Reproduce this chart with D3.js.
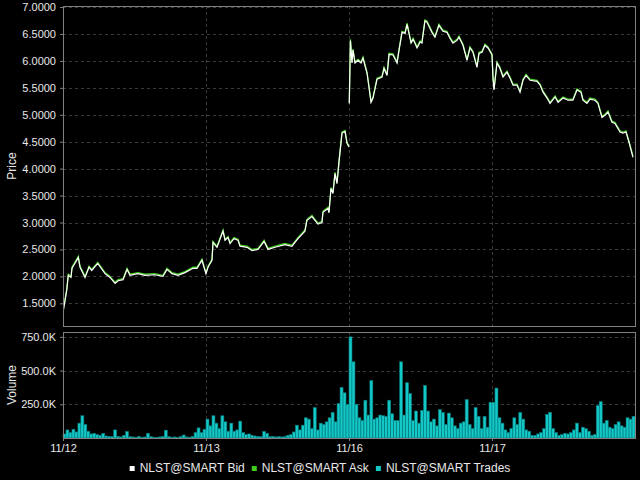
<!DOCTYPE html>
<html>
<head>
<meta charset="utf-8">
<script src="https://cdn.jsdelivr.net/npm/d3@7"></script>
<style>
  body { margin: 0; background: #000; }
  text { font-family: "Liberation Sans", Arial, sans-serif; fill: #e8e8e8; }
</style>
</head>
<body>
<div id="chart"></div>
<script>
const days = ["11/12", "11/13", "11/16", "11/17"];
const priceTicks = [1.5, 2.0, 2.5, 3.0, 3.5, 4.0, 4.5, 5.0, 5.5, 6.0, 6.5, 7.0];
const volumeTicks = [250000, 500000, 750000];
const legendNames = ["NLST@SMART Bid", "NLST@SMART Ask", "NLST@SMART Trades"];
const legendColors = ["#ffffff", "#3fcc1a", "#14c8c8"];

// quote time, in trading days since the 11/12 open (null = weekend break)
const quoteTime = [
  0.000,0.026,0.037,0.056,0.063,0.107,0.119,0.154,0.182,0.201,0.243,0.294,0.329,0.364,0.385,0.420,
  0.448,0.469,0.524,0.573,0.643,0.699,0.727,0.762,0.804,0.853,0.909,0.937,0.972,0.986,1.000,
  1.014,1.042,1.049,1.077,1.119,1.133,1.154,1.168,1.196,1.224,1.238,1.287,1.322,1.364,1.406,1.434,
  1.483,1.552,1.601,1.643,1.692,1.706,1.741,1.783,1.811,1.818,1.853,1.860,1.874,1.888,1.902,1.916,
  1.930,1.951,1.972,1.986,2.000,
  2.001,
  2.002,2.010,2.021,2.028,2.042,2.063,2.084,2.098,2.126,2.133,2.154,2.168,2.196,2.231,2.245,2.266,
  2.280,2.308,2.336,2.350,2.371,2.392,2.406,2.434,2.448,2.476,2.497,2.510,2.531,2.545,2.580,2.601,
  2.629,2.657,2.685,2.706,2.727,2.755,2.769,2.797,2.825,2.846,2.867,2.895,2.909,2.930,2.951,2.972,3.000,
  3.007,3.014,3.035,3.056,3.077,3.105,3.126,3.147,3.175,3.196,3.217,3.238,3.266,3.315,3.336,3.357,
  3.385,3.406,3.441,3.462,3.497,3.531,3.566,3.594,3.622,3.636,3.664,3.685,3.720,3.741,3.769,3.790,
  3.811,3.839,3.860,3.895,3.916,3.937,3.958,3.986
];

const bid = [
  1.33,1.74,2.02,1.98,2.15,2.35,2.17,1.98,2.17,2.11,2.24,2.05,1.98,1.87,1.92,1.94,
  2.13,2.02,2.05,2.02,2.03,2.00,2.13,2.05,2.02,2.07,2.15,2.15,2.30,2.17,2.05,
  2.17,2.30,2.63,2.54,2.84,2.67,2.72,2.61,2.70,2.67,2.56,2.54,2.48,2.50,2.65,2.50,
  2.54,2.59,2.56,2.70,2.84,3.04,3.11,2.97,3.00,3.19,3.26,3.18,3.63,3.54,3.91,3.72,
  4.12,4.66,4.69,4.47,4.40,
  null,
  5.21,6.38,5.96,6.20,5.96,6.01,5.96,6.05,5.77,5.64,5.23,5.31,5.66,5.70,5.86,5.73,
  6.12,6.11,5.96,6.20,6.53,6.51,6.68,6.33,6.40,6.24,6.35,6.33,6.74,6.72,6.53,6.44,
  6.66,6.55,6.53,6.42,6.33,6.38,6.44,6.29,6.01,6.24,6.16,5.88,6.14,6.16,6.29,6.24,6.11,
  5.68,5.46,5.96,5.86,5.70,5.79,5.68,5.55,5.55,5.42,5.64,5.73,5.64,5.62,5.55,5.42,
  5.31,5.21,5.33,5.23,5.31,5.27,5.27,5.46,5.42,5.27,5.21,5.29,5.27,5.21,4.95,4.99,
  5.05,4.86,4.84,4.68,4.66,4.68,4.49,4.21
];

const ask = [
  1.35,1.76,2.04,2.00,2.17,2.37,2.19,2.00,2.19,2.13,2.26,2.07,2.00,1.89,1.94,1.96,
  2.15,2.04,2.07,2.04,2.05,2.02,2.15,2.07,2.04,2.09,2.17,2.17,2.32,2.19,2.07,
  2.19,2.32,2.65,2.56,2.86,2.69,2.74,2.63,2.72,2.69,2.58,2.56,2.50,2.52,2.67,2.52,
  2.56,2.61,2.58,2.72,2.86,3.06,3.13,2.99,3.02,3.21,3.28,3.20,3.65,3.56,3.93,3.74,
  4.14,4.68,4.71,4.49,4.42,
  null,
  5.23,6.40,5.98,6.22,5.98,6.03,5.98,6.07,5.79,5.66,5.25,5.33,5.68,5.72,5.88,5.75,
  6.14,6.13,5.98,6.22,6.55,6.53,6.70,6.35,6.42,6.26,6.37,6.35,6.76,6.74,6.55,6.46,
  6.68,6.57,6.55,6.44,6.35,6.40,6.46,6.31,6.03,6.26,6.18,5.90,6.16,6.18,6.31,6.26,6.13,
  5.70,5.48,5.98,5.88,5.72,5.81,5.70,5.57,5.57,5.44,5.66,5.75,5.66,5.64,5.57,5.44,
  5.33,5.23,5.35,5.25,5.33,5.29,5.29,5.48,5.44,5.29,5.23,5.31,5.29,5.23,4.97,5.01,
  5.07,4.88,4.86,4.70,4.68,4.70,4.51,4.23
];

// traded volume in thousands, 48 bins per session
const vol1112 = [30,60,40,65,45,110,165,100,50,30,35,25,20,35,15,12,10,60,12,8,20,48,10,8,
                 6,12,5,8,35,10,6,5,8,12,58,10,6,8,5,10,22,8,6,12,40,75,40,65];
const vol1113 = [140,90,165,110,70,165,120,50,110,50,60,125,40,25,30,20,15,12,10,48,35,10,12,8,
                 10,8,10,20,25,45,95,60,95,150,140,70,225,60,110,100,120,150,190,120,255,375,335,250];
const vol1116 = [750,565,250,150,130,280,170,425,140,150,170,165,160,280,180,130,130,565,170,410,330,130,200,110,
                 205,390,200,120,140,90,210,190,100,185,150,90,70,110,120,285,100,70,225,160,70,160,80,265];
const vol1117 = [265,370,150,110,60,40,70,150,100,190,140,60,50,20,20,30,40,70,175,190,70,40,20,25,
                 35,30,40,60,110,40,80,70,50,20,25,240,270,110,130,80,70,100,120,90,80,150,140,160];

const W = 640, H = 480;
const left = 63, right = 635;
const priceTop = 6, priceBottom = 326;
const volTop = 332, volBottom = 438;

const svg = d3.select("#chart").append("svg").attr("width", W).attr("height", H);
svg.append("rect").attr("width", W).attr("height", H).attr("fill", "#000");

const x = d3.scaleLinear().domain([0, days.length]).range([left, right]);
const y = d3.scaleLinear().domain([1.079, 7.019]).range([priceBottom, priceTop]);
const yv = d3.scaleLinear().domain([0, 786000]).range([volBottom, volTop]);

const quotes = quoteTime.map((t, i) => ({ t: t, bid: bid[i], ask: ask[i] }));
const volumes = [].concat(vol1112, vol1113, vol1116, vol1117);
const xb = d3.scaleBand().domain(d3.range(volumes.length)).range([left, right]).padding(0);

// grid lines
function grid(yScale, ticks, y0, y1) {
  svg.append("g").selectAll("line.h").data(ticks).enter().append("line")
    .attr("x1", left).attr("x2", right)
    .attr("y1", d => Math.round(yScale(d)) + 0.5).attr("y2", d => Math.round(yScale(d)) + 0.5)
    .attr("stroke", "#3a3a3a").attr("stroke-dasharray", "3,3");
  svg.append("g").selectAll("line.v").data(d3.range(1, days.length)).enter().append("line")
    .attr("x1", d => Math.round(x(d)) + 0.5).attr("x2", d => Math.round(x(d)) + 0.5)
    .attr("y1", y0).attr("y2", y1)
    .attr("stroke", "#3a3a3a").attr("stroke-dasharray", "3,3");
}
grid(y, priceTicks, priceTop, priceBottom);
grid(yv, volumeTicks, volTop, volBottom);

// price lines
svg.append("clipPath").attr("id", "clipPrice").append("rect")
  .attr("x", left).attr("y", priceTop).attr("width", right - left).attr("height", priceBottom - priceTop);

const askLine = d3.line().defined(d => d.ask != null).x(d => x(d.t)).y(d => y(d.ask));
const bidLine = d3.line().defined(d => d.bid != null).x(d => x(d.t)).y(d => y(d.bid));

svg.append("path").datum(quotes).attr("clip-path", "url(#clipPrice)")
  .attr("d", askLine).attr("fill", "none").attr("stroke", legendColors[1]).attr("stroke-width", 1.3);
svg.append("path").datum(quotes).attr("clip-path", "url(#clipPrice)")
  .attr("d", bidLine).attr("fill", "none").attr("stroke", legendColors[0]).attr("stroke-width", 1.2);

// volume bars
svg.append("g").selectAll("rect").data(volumes).enter().append("rect")
  .attr("x", (d, i) => xb(i))
  .attr("y", d => yv(d * 1000))
  .attr("width", xb.bandwidth())
  .attr("height", d => volBottom - yv(d * 1000))
  .attr("fill", legendColors[2])
  .attr("stroke", "#077a7a")
  .attr("stroke-width", 0.6);

// frames
[[priceTop, priceBottom], [volTop, volBottom]].forEach(([t, b]) => {
  svg.append("rect").attr("x", left + 0.5).attr("y", t + 0.5)
    .attr("width", right - left).attr("height", b - t)
    .attr("fill", "none").attr("stroke", "#808080");
});

// axes
function styleAxis(g) {
  g.select(".domain").remove();
  g.selectAll(".tick line").attr("stroke", "#808080");
  g.selectAll(".tick text").attr("fill", "#e8e8e8").style("font-size", "11px")
    .style("font-family", "'Liberation Sans', Arial, sans-serif");
}

svg.append("g").attr("transform", "translate(" + left + ",0)")
  .call(d3.axisLeft(y).tickValues(priceTicks).tickFormat(d3.format(".4f")).tickSize(3).tickPadding(4))
  .call(styleAxis);

svg.append("g").attr("transform", "translate(" + left + ",0)")
  .call(d3.axisLeft(yv).tickValues(volumeTicks).tickFormat(d => (d / 1000).toFixed(1) + "K").tickSize(3).tickPadding(4))
  .call(styleAxis);

svg.append("g").attr("transform", "translate(0," + volBottom + ")")
  .call(d3.axisBottom(x).tickValues(d3.range(days.length)).tickFormat(d => days[d]).tickSize(3).tickPadding(3))
  .call(styleAxis);

// axis titles
svg.append("text").attr("transform", "translate(16," + (priceTop + priceBottom) / 2 + ") rotate(-90)")
  .attr("text-anchor", "middle").style("font-size", "12px").text("Price");
svg.append("text").attr("transform", "translate(16," + (volTop + volBottom) / 2 + ") rotate(-90)")
  .attr("text-anchor", "middle").style("font-size", "12px").text("Volume");

// legend
const legend = svg.append("g");
let lx = 0;
legendNames.forEach((name, i) => {
  legend.append("rect").attr("x", lx).attr("y", -5.5).attr("width", 5).attr("height", 5)
    .attr("fill", legendColors[i]);
  const t = legend.append("text").attr("x", lx + 10).attr("y", 0).style("font-size", "12px").text(name);
  lx += 10 + t.node().getComputedTextLength() + 7;
});
legend.attr("transform", "translate(" + (320 - (lx - 7) / 2) + ",471.5)");
</script>
</body>
</html>
